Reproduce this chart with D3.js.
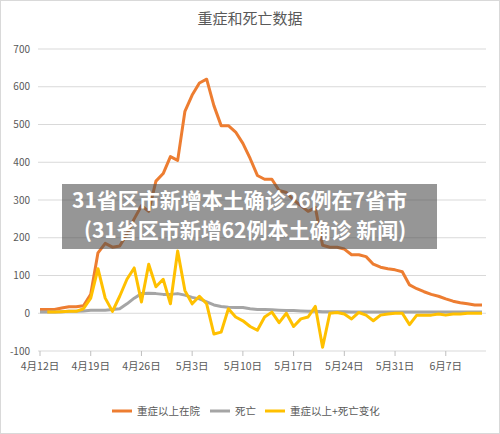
<!DOCTYPE html>
<html><head><meta charset="utf-8">
<script src="https://cdn.jsdelivr.net/npm/d3@7"></script>
<style>body{margin:0;background:#fff;font-family:"Noto Sans CJK SC","Noto Sans",sans-serif}</style>
</head><body>
<svg id="chart" width="500" height="434"></svg>
<script>
// values, one per day from 4/12
const startDate = new Date(2020, 3, 12);
const severe = [10,10,10,14,17,17,20,50,160,185,175,178,210,250,285,270,350,370,415,405,535,578,610,620,550,497,497,480,450,410,365,355,355,325,320,300,285,270,280,180,175,175,170,155,155,150,130,122,118,115,110,75,65,57,50,45,38,32,28,25,22,22];
const deaths = [3,3,3,4,5,5,6,8,8,8,10,12,25,40,52,53,52,50,50,52,48,42,38,30,22,18,16,15,15,12,10,10,9,8,7,7,6,5,5,4,4,4,4,3,3,3,3,3,3,3,3,3,3,3,3,3,3,3,3,3,3,3];
const change = [null,3,3,4,5,5,12,40,118,40,5,45,90,120,30,130,70,90,25,165,60,25,45,25,-55,-50,12,-10,-20,-35,-45,-10,3,-25,0,-35,-15,-10,18,-90,0,2,-2,-15,2,-5,-20,-5,-2,0,0,-30,-5,-5,-5,-2,-5,-2,-2,0,0,0];
const yTicks = [-100,0,100,200,300,400,500,600,700];
const seriesNames = ["重症以上在院","死亡","重症以上+死亡变化"];
const colors = ["#ed7d31","#a5a5a5","#ffc000"];

const svg = d3.select("#chart");
svg.append("rect").attr("x",0.5).attr("y",0.5).attr("width",499).attr("height",433).attr("fill","#fff").attr("stroke","#d9d9d9");

const x = d3.scaleTime().domain([startDate, d3.timeDay.offset(startDate, 61)]).range([40, 482]);
const y = d3.scaleLinear().domain([-100, 700]).range([351, 49]);

svg.append("text").attr("x",250).attr("y",24).attr("text-anchor","middle")
  .attr("font-size",15).attr("fill","#595959").text("重症和死亡数据");

svg.append("g").selectAll("line").data(yTicks).join("line")
  .attr("x1",38).attr("x2",486).attr("y1",d=>y(d)).attr("y2",d=>y(d))
  .attr("stroke","#d9d9d9");
svg.append("g").selectAll("text").data(yTicks).join("text")
  .attr("x",30).attr("y",d=>y(d)+3.5).attr("text-anchor","end")
  .attr("font-size",10).attr("fill","#595959").text(d=>d);

const xTicks = d3.range(9).map(i => d3.timeDay.offset(startDate, i*7));
svg.append("g").selectAll("line").data(xTicks).join("line")
  .attr("x1",d=>x(d)).attr("x2",d=>x(d)).attr("y1",351).attr("y2",356).attr("stroke","#bfbfbf");
svg.append("g").selectAll("text").data(xTicks).join("text")
  .attr("x",d=>x(d)).attr("y",370).attr("text-anchor","middle")
  .attr("font-size",10.5).attr("fill","#595959").text(d=>(d.getMonth()+1)+"月"+d.getDate()+"日");

const line = d3.line().defined(d=>d!=null)
  .x((d,i)=>x(d3.timeDay.offset(startDate,i))).y(d=>y(d));
[severe, deaths, change].forEach((s,k)=>{
  svg.append("path").datum(s).attr("d",line).attr("fill","none")
    .attr("stroke",colors[k]).attr("stroke-width",3).attr("stroke-linejoin","round");
});

const lx = [112, 210, 265];
seriesNames.forEach((n,k)=>{
  svg.append("line").attr("x1",lx[k]).attr("x2",lx[k]+20).attr("y1",411).attr("y2",411)
    .attr("stroke",colors[k]).attr("stroke-width",3);
  svg.append("text").attr("x",lx[k]+25).attr("y",415).attr("font-size",10.5).attr("fill","#595959").text(n);
});

// caption overlay
svg.append("rect").attr("x",62).attr("y",184).attr("width",375).attr("height",65).attr("fill","rgba(80,80,80,0.6)");
svg.append("text").attr("x",72).attr("y",208).attr("font-size",21).attr("font-weight","bold").attr("fill","#fff").text("31省区市新增本土确诊26例在7省市");
svg.append("text").attr("x",84).attr("y",238).attr("font-size",21).attr("font-weight","bold").attr("fill","#fff").text("(31省区市新增62例本土确诊 新闻)");
</script>
</body></html>
